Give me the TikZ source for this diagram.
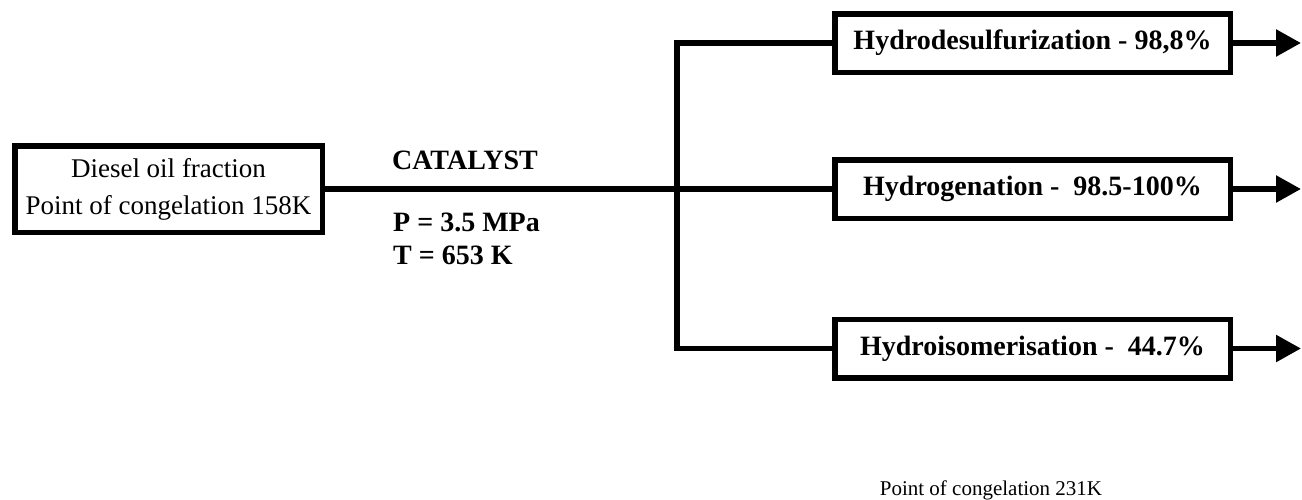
\documentclass[tikz,border=0pt]{standalone}
\usepackage{fontspec}
\setmainfont{Liberation Serif}
\usetikzlibrary{arrows.meta}
\begin{document}
\begin{tikzpicture}[x=1pt,y=-1pt,
  procbox/.style={draw=black,line width=5.5pt,minimum width=395.5pt,minimum height=58.5pt,inner sep=0pt,
    font=\fontsize{28}{33}\selectfont\bfseries},
  flow/.style={line width=5.5pt,draw=black},
  outarrow/.style={flow,-{Triangle[length=25pt,width=26pt]}},
  lbl/.style={inner sep=0pt,font=\fontsize{28}{33}\selectfont\bfseries}]
\useasboundingbox (0,0) rectangle (1302,499);
\fill[white] (0,0) rectangle (1302,499);

\node[draw=black,line width=5.5pt,minimum width=307.5pt,minimum height=86.5pt,inner sep=0pt,align=center,
  font=\fontsize{27}{37}\selectfont] (diesel) at (168.5,189) {Diesel oil fraction\\Point of congelation 158K};

\node[procbox] (b1) at (1032.5,43) {Hydrodesulfurization - 98,8\%};
\node[procbox] (b2) at (1032.5,189) {Hydrogenation -\ \ 98.5-100\%};
\node[procbox] (b3) at (1032.5,348.5) {Hydroisomerisation -\ \ 44.7\%};

\coordinate (j) at (677,189);
\coordinate (a1) at (1301,43);
\coordinate (a2) at (1301,189);
\coordinate (a3) at (1301,348.5);

\draw[flow] (b1.west) -| (j) |- (b3.west);
\draw[flow] (diesel.east) -- (b2.west);
\draw[outarrow] (b1.east) -- (a1);
\draw[outarrow] (b2.east) -- (a2);
\draw[outarrow] (b3.east) -- (a3);

\node[lbl,anchor=base] (cat) at (465,169) {CATALYST};
\node[lbl,anchor=base west] (pres) at (393,231) {P = 3.5 MPa};
\node[lbl,anchor=base west] (temp) at (393,264) {T = 653 K};

\node[inner sep=0pt,anchor=base,font=\fontsize{21}{25}\selectfont] (cong) at (991,495) {Point of congelation 231K};
\end{tikzpicture}
\end{document}
